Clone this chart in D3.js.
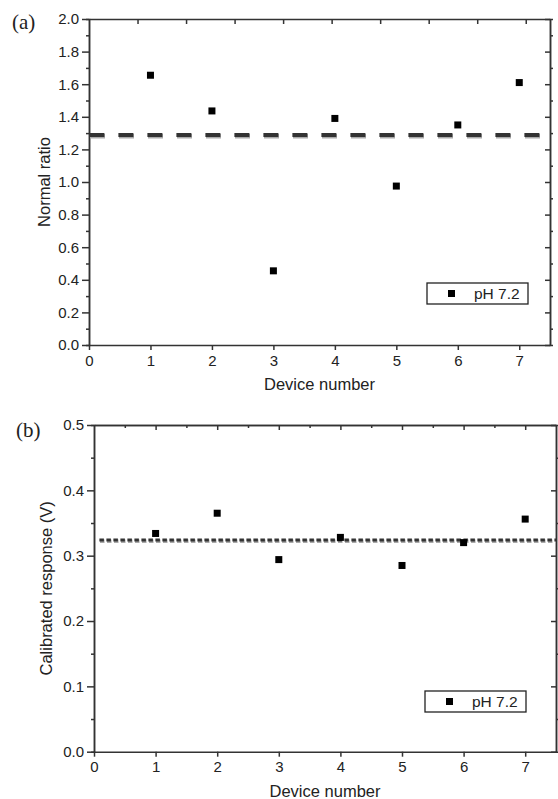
<!DOCTYPE html>
<html>
<head>
<meta charset="utf-8">
<script src="https://cdn.jsdelivr.net/npm/d3@7"></script>
<style>
  body { margin: 0; background: #fff; }
  text { font-family: "Liberation Sans", Arial, sans-serif; fill: #222; }
  .domain, .tick line { stroke: #333; stroke-width: 1.5; }
</style>
</head>
<body>
<div id="chart"></div>
<script>
// data
let devices = [1, 2, 3, 4, 5, 6, 7];
let normalRatio = [1.655, 1.436, 0.455, 1.39, 0.975, 1.35, 1.61];
let calibrated = [0.334, 0.365, 0.294, 0.328, 0.285, 0.320, 0.356];
let meanRatio = [1.288];
let meanCalibrated = [0.324];
let xTicks = [0, 1, 2, 3, 4, 5, 6, 7];
let yTicksA = [0, 0.2, 0.4, 0.6, 0.8, 1.0, 1.2, 1.4, 1.6, 1.8, 2.0];
let yTicksB = [0, 0.1, 0.2, 0.3, 0.4, 0.5];
let legendLabel = "pH 7.2";

let svg = d3.select("#chart").append("svg")
  .attr("width", 558)
  .attr("height", 799);

function drawPanel(opt) {
  let x = d3.scaleLinear().domain([0, 7.5]).range([opt.left, opt.right]);
  let y = d3.scaleLinear().domain(opt.yDomain).range([opt.bottom, opt.top]);
  let g = svg.append("g");

  //panel letter
  svg.append("text")
    .attr("x", opt.letterX).attr("y", opt.letterY)
    .style("font-family", "'Liberation Serif', 'Times New Roman', serif")
    .style("font-size", "21px")
    .text(opt.letter);

  //minor ticks first
  g.append("g").attr("transform", `translate(${opt.left},0)`)
    .call(d3.axisLeft(y).tickValues(opt.yMinor).tickSize(3).tickFormat(""));
  g.append("g").attr("transform", `translate(${opt.right},0)`)
    .call(d3.axisLeft(y).tickValues(opt.yMinor).tickSize(-3).tickFormat(""));

  //left axis
  let left = g.append("g").attr("transform", `translate(${opt.left},0)`)
    .call(d3.axisLeft(y).tickValues(opt.yTicks).tickSize(7).tickPadding(3)
      .tickFormat(d3.format(".1f")).tickSizeOuter(0));
  left.selectAll("text").style("font-size", "15px");

  //right axis
  g.append("g").attr("transform", `translate(${opt.right},0)`)
    .call(d3.axisRight(y).tickValues(opt.yTicks).tickSize(-5).tickFormat("").tickSizeOuter(0));

  //bottom axis
  let bottom = g.append("g").attr("transform", `translate(0,${opt.bottom})`)
    .call(d3.axisBottom(x).tickValues(xTicks).tickSize(5).tickPadding(5).tickSizeOuter(0));
  bottom.selectAll("text").style("font-size", "15px");

  //top axis
  g.append("g").attr("transform", `translate(0,${opt.top})`)
    .call(d3.axisTop(opt.topScale || x).tickValues(opt.topTicks).tickSize(-5).tickFormat("").tickSizeOuter(0));
  if (opt.topMinor) {
    g.append("g").attr("transform", `translate(0,${opt.top})`)
      .call(d3.axisTop(x).tickValues(opt.topMinor).tickSize(-3).tickFormat("").tickSizeOuter(0));
  }

  //axis titles
  svg.append("text")
    .attr("x", (opt.left + opt.right) / 2).attr("y", opt.bottom + 45)
    .attr("text-anchor", "middle")
    .style("font-size", "16.5px")
    .text("Device number");
  svg.append("text")
    .attr("transform", `translate(${opt.yTitleX},${(opt.top + opt.bottom) / 2}) rotate(-90)`)
    .attr("text-anchor", "middle")
    .style("font-size", "16.5px")
    .text(opt.yTitle);

  //mean line: shadow + dark line
  let line = g.selectAll(".mean")
    .data(opt.mean)
    .enter();
  line.append("line")
    .attr("x1", opt.lineX0).attr("x2", opt.right)
    .attr("y1", d => y(d) + 1.2).attr("y2", d => y(d) + 1.2)
    .attr("stroke", "#aaa").attr("stroke-width", opt.lineW)
    .attr("stroke-dasharray", opt.dash);
  line.append("line")
    .attr("x1", opt.lineX0 - 0.6).attr("x2", opt.right)
    .attr("y1", d => y(d)).attr("y2", d => y(d))
    .attr("stroke", "#333").attr("stroke-width", opt.lineW - 0.6)
    .attr("stroke-dasharray", opt.dash);

  //points
  g.selectAll(".pt")
    .data(devices)
    .enter()
    .append("rect")
    .attr("class", "pt")
    .attr("x", (d) => x(d) - 3.5)
    .attr("y", (d, i) => y(opt.values[i]) - 3.5)
    .attr("width", 7).attr("height", 7)
    .attr("fill", "#000");

  //legend
  let lg = svg.append("g");
  lg.append("rect")
    .attr("x", opt.legX).attr("y", opt.legY)
    .attr("width", 101).attr("height", 21)
    .attr("fill", "#fff").attr("stroke", "#222").attr("stroke-width", 1.3);
  lg.append("rect")
    .attr("x", opt.legX + 21).attr("y", opt.legY + 7)
    .attr("width", 7).attr("height", 7)
    .attr("fill", "#000");
  lg.append("text")
    .attr("x", opt.legX + 47).attr("y", opt.legY + 15.5)
    .style("font-size", "15.5px")
    .text(legendLabel);
}

drawPanel({
  letter: "(a)", letterX: 12, letterY: 29,
  left: 89, right: 550, top: 19, bottom: 345,
  yDomain: [0, 2], yTicks: yTicksA,
  yMinor: d3.range(0.1, 2, 0.2),
  topScale: d3.scaleLinear().domain([0, 9.5]).range([89, 550]),
  topTicks: [1, 2, 3, 4, 5, 6, 7, 8, 9],
  yTitle: "Normal ratio", yTitleX: 50,
  values: normalRatio, mean: meanRatio,
  lineX0: 90, lineW: 4.6, dash: "15,14",
  legX: 427, legY: 283
});

drawPanel({
  letter: "(b)", letterX: 16, letterY: 437,
  left: 94, right: 556, top: 425, bottom: 751.7,
  yDomain: [0, 0.5], yTicks: yTicksB,
  yMinor: d3.range(0.05, 0.5, 0.1),
  topTicks: [1, 2, 3, 4, 5, 6, 7],
  topMinor: [0.5, 1.5, 2.5, 3.5, 4.5, 5.5, 6.5],
  yTitle: "Calibrated response (V)", yTitleX: 52,
  values: calibrated, mean: meanCalibrated,
  lineX0: 100, lineW: 3.4, dash: "4.5,2.5",
  legX: 425, legY: 691
});
</script>
</body>
</html>
